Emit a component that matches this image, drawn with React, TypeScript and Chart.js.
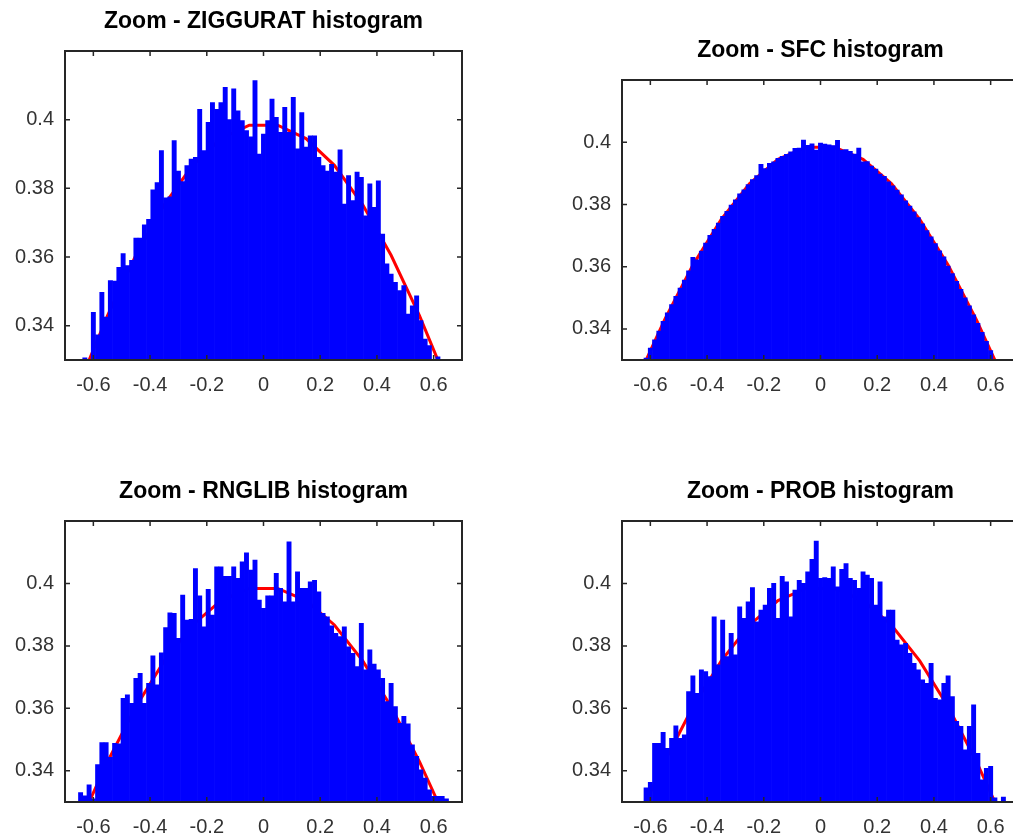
import React, { useEffect, useRef } from 'react';
import { Chart, registerables } from 'chart.js';

Chart.register(...registerables);

const binCenters = [
  -0.645, -0.63, -0.615, -0.6, -0.585, -0.57, -0.555, -0.54, -0.525, -0.51,
  -0.495, -0.48, -0.465, -0.45, -0.435, -0.42, -0.405, -0.39, -0.375, -0.36,
  -0.345, -0.33, -0.315, -0.3, -0.285, -0.27, -0.255, -0.24, -0.225, -0.21,
  -0.195, -0.18, -0.165, -0.15, -0.135, -0.12, -0.105, -0.09, -0.075, -0.06,
  -0.045, -0.03, -0.015, 0, 0.015, 0.03, 0.045, 0.06, 0.075, 0.09,
  0.105, 0.12, 0.135, 0.15, 0.165, 0.18, 0.195, 0.21, 0.225, 0.24,
  0.255, 0.27, 0.285, 0.3, 0.315, 0.33, 0.345, 0.36, 0.375, 0.39,
  0.405, 0.42, 0.435, 0.45, 0.465, 0.48, 0.495, 0.51, 0.525, 0.54,
  0.555, 0.57, 0.585, 0.6, 0.615, 0.63, 0.645,
];

const zigguratValues = [
  0.326, 0.3306, 0.329, 0.3439, 0.3373, 0.3497, 0.3425, 0.3531, 0.353, 0.357,
  0.361, 0.3575, 0.359, 0.3655, 0.3655, 0.3694, 0.371, 0.3796, 0.3817, 0.391,
  0.3772, 0.3775, 0.3939, 0.385, 0.382, 0.3866, 0.3885, 0.389, 0.403, 0.391,
  0.3992, 0.405, 0.403, 0.405, 0.4094, 0.4, 0.409, 0.4026, 0.3997, 0.3968,
  0.395, 0.4114, 0.39, 0.3958, 0.3997, 0.406, 0.4007, 0.3963, 0.4036, 0.3963,
  0.4065, 0.3915, 0.4021, 0.392, 0.3953, 0.3953, 0.389, 0.3866, 0.385, 0.387,
  0.3847, 0.3912, 0.3754, 0.3837, 0.3764, 0.3847, 0.3832, 0.372, 0.3813, 0.3745,
  0.3822, 0.3667, 0.358, 0.355, 0.3526, 0.3502, 0.3517, 0.3434, 0.3458, 0.3487,
  0.3415, 0.3361, 0.3342, 0.3295, 0.3309, 0.327, 0.325,
];

const sfcValues = [
  0.3208, 0.3272, 0.3306, 0.3338, 0.3365, 0.3393, 0.3424, 0.3452, 0.3478, 0.3505,
  0.3531, 0.3557, 0.3587, 0.363, 0.3622, 0.365, 0.3676, 0.3701, 0.372, 0.374,
  0.3762, 0.3778, 0.3798, 0.3815, 0.3834, 0.3847, 0.3864, 0.388, 0.3893, 0.3929,
  0.3915, 0.3932, 0.3937, 0.3948, 0.3955, 0.3961, 0.3969, 0.398, 0.3981, 0.4007,
  0.399, 0.3995, 0.3975, 0.3997, 0.3994, 0.3992, 0.3989, 0.4006, 0.3975, 0.3976,
  0.3971, 0.3962, 0.3981, 0.3937, 0.3938, 0.3923, 0.3914, 0.3898, 0.389, 0.3873,
  0.386, 0.3846, 0.3831, 0.3812, 0.3795, 0.3776, 0.3758, 0.3738, 0.3716, 0.3696,
  0.3674, 0.3651, 0.3632, 0.3602, 0.3578, 0.3553, 0.3527, 0.35, 0.3474, 0.3445,
  0.3418, 0.3389, 0.336, 0.333, 0.33, 0.3268, 0.3238,
];

const rnglibValues = [
  0.333, 0.332, 0.3355, 0.331, 0.342, 0.349, 0.349, 0.3443, 0.3488, 0.3486,
  0.3632, 0.3643, 0.3616, 0.3696, 0.3712, 0.3616, 0.368, 0.3768, 0.3675, 0.3778,
  0.3859, 0.3906, 0.3904, 0.3824, 0.3963, 0.3883, 0.3885, 0.4048, 0.396, 0.3861,
  0.3981, 0.3899, 0.4053, 0.4053, 0.4023, 0.4023, 0.4053, 0.4016, 0.4069, 0.4098,
  0.4043, 0.4075, 0.3947, 0.392, 0.396, 0.396, 0.4032, 0.3984, 0.3941, 0.4133,
  0.3941, 0.4037, 0.3984, 0.3984, 0.4005, 0.401, 0.3973, 0.3904, 0.3893, 0.3864,
  0.384, 0.383, 0.3861, 0.3797, 0.3776, 0.3734, 0.3872, 0.3723, 0.3787, 0.3742,
  0.3723, 0.3696, 0.3622, 0.368, 0.3606, 0.3552, 0.3574, 0.355, 0.3483, 0.3446,
  0.3403, 0.3377, 0.3339, 0.3318, 0.3318, 0.3318, 0.331,
];

const probValues = [
  0.325, 0.328, 0.3345, 0.3363, 0.3488, 0.3488, 0.3523, 0.3472, 0.3504, 0.3544,
  0.3504, 0.3515, 0.3654, 0.3704, 0.3648, 0.3723, 0.3718, 0.3702, 0.3893, 0.3739,
  0.3883, 0.3766, 0.384, 0.3771, 0.3925, 0.3888, 0.3941, 0.3987, 0.3877, 0.3915,
  0.3931, 0.3984, 0.4, 0.3888, 0.4023, 0.4005, 0.3893, 0.3979, 0.401, 0.4,
  0.4037, 0.4077, 0.4136, 0.4016, 0.4019, 0.4016, 0.4053, 0.3989, 0.4045, 0.4064,
  0.4016, 0.401, 0.3984, 0.4037, 0.4027, 0.4016, 0.3931, 0.4005, 0.3893, 0.3915,
  0.3915, 0.3819, 0.3803, 0.3808, 0.3776, 0.3744, 0.3723, 0.3691, 0.368, 0.3744,
  0.3632, 0.3627, 0.368, 0.3704, 0.3638, 0.3558, 0.3542, 0.3467, 0.3542, 0.3611,
  0.3456, 0.3371, 0.3408, 0.3414, 0.3313, 0.329, 0.3316,
];

const pdfX = [-0.75, -0.65, -0.55, -0.45, -0.35, -0.25, -0.15, -0.05, 0.05, 0.15, 0.25, 0.35, 0.45, 0.55, 0.65, 0.75];
const pdfY = [0.3011, 0.323, 0.3429, 0.3605, 0.3752, 0.3867, 0.3945, 0.3984, 0.3984, 0.3945, 0.3867, 0.3752, 0.3605, 0.3429, 0.323, 0.3011];

const xTickValues = [-0.6, -0.4, -0.2, 0, 0.2, 0.4, 0.6];
const xTickLabels = ['-0.6', '-0.4', '-0.2', '0', '0.2', '0.4', '0.6'];
const yTickValues = [0.34, 0.36, 0.38, 0.4];
const yTickLabels = ['0.34', '0.36', '0.38', '0.4'];

const titles = ['Zoom - ZIGGURAT histogram', 'Zoom - SFC histogram', 'Zoom - RNGLIB histogram', 'Zoom - PROB histogram'];
const seriesList = [zigguratValues, sfcValues, rnglibValues, probValues];

const X_MIN = -0.7;
const X_MAX = 0.7;
const Y_MIN = 0.33;
const Y_MAX = 0.42;

const AXIS_COLOR = '#262626';
const LABEL_COLOR = '#333333';
const TICK_LEN = 5;

// layout of each panel (canvas placement and paddings)
const panels = [
  { left: 0, top: 0, titlePadTop: 8, titlePadBottom: 15.4, padRight: 18, padBottom: 20 },
  { left: 557, top: 0, titlePadTop: 37, titlePadBottom: 15.4, padRight: 18, padBottom: 20 },
  { left: 0, top: 430, titlePadTop: 48, titlePadBottom: 15.4, padRight: 18, padBottom: 8 },
  { left: 557, top: 430, titlePadTop: 48, titlePadBottom: 15.4, padRight: 18, padBottom: 8 },
];
const CANVAS_W = 480;
const CANVAS_H = 420;

const framePlugin = {
  id: 'frame',
  afterDatasetsDraw(chart: any) {
    const { ctx, chartArea: a, scales } = chart;
    const xs = scales.x;
    const ys = scales.y;
    ctx.save();
    ctx.strokeStyle = AXIS_COLOR;
    ctx.lineWidth = 1.5;
    ctx.beginPath();
    for (const v of xTickValues) {
      const px = xs.getPixelForValue(v);
      ctx.moveTo(px, a.bottom);
      ctx.lineTo(px, a.bottom - TICK_LEN);
      ctx.moveTo(px, a.top);
      ctx.lineTo(px, a.top + TICK_LEN);
    }
    for (const v of yTickValues) {
      const py = ys.getPixelForValue(v);
      ctx.moveTo(a.left, py);
      ctx.lineTo(a.left + TICK_LEN, py);
      ctx.moveTo(a.right, py);
      ctx.lineTo(a.right - TICK_LEN, py);
    }
    ctx.stroke();
    ctx.lineWidth = 2;
    ctx.strokeRect(a.left, a.top, a.right - a.left, a.bottom - a.top);
    ctx.restore();
  },
};

function Panel({ index }: { index: number }) {
  const ref = useRef<HTMLCanvasElement | null>(null);
  const p = panels[index];
  useEffect(() => {
    if (!ref.current) return;
    const values = seriesList[index];
    const chart = new Chart(ref.current, {
      type: 'bar',
      data: {
        datasets: [
          {
            type: 'line',
            data: pdfX.map((x, i) => ({ x, y: pdfY[i] })),
            borderColor: '#ff0000',
            borderWidth: 3,
            pointRadius: 0,
            tension: 0,
            order: 2,
          } as any,
          {
            type: 'bar',
            data: binCenters.map((x, i) => ({ x, y: values[i] })),
            backgroundColor: '#0000ff',
            borderWidth: 0,
            barPercentage: 1,
            categoryPercentage: 1,
            order: 1,
          } as any,
        ],
      },
      options: {
        responsive: false,
        animation: false,
        devicePixelRatio: 1,
        layout: { padding: { left: 0, right: p.padRight, top: 0, bottom: p.padBottom } },
        plugins: {
          legend: { display: false },
          tooltip: { enabled: false },
          title: {
            display: true,
            text: titles[index],
            color: '#000000',
            fullSize: false,
            font: { family: 'Liberation Sans', size: 23, weight: 'bold' },
            padding: { top: p.titlePadTop, bottom: p.titlePadBottom },
          },
        },
        scales: {
          x: {
            type: 'linear',
            min: X_MIN,
            max: X_MAX,
            offset: false,
            grid: { display: false, drawTicks: false },
            border: { display: false },
            afterBuildTicks: (s: any) => {
              s.ticks = xTickValues.map((v) => ({ value: v }));
            },
            afterFit: (s: any) => {
              s.height = 40;
            },
            ticks: {
              autoSkip: false,
              maxRotation: 0,
              padding: 13,
              color: LABEL_COLOR,
              font: { family: 'Liberation Sans', size: 20 },
              callback: (_v: any, i: number) => xTickLabels[i],
            },
          },
          y: {
            type: 'linear',
            min: Y_MIN,
            max: Y_MAX,
            grid: { display: false, drawTicks: false },
            border: { display: false },
            afterBuildTicks: (s: any) => {
              s.ticks = yTickValues.map((v) => ({ value: v }));
            },
            afterFit: (s: any) => {
              s.width = 65;
            },
            ticks: {
              autoSkip: false,
              padding: 11,
              color: LABEL_COLOR,
              font: { family: 'Liberation Sans', size: 20 },
              callback: (_v: any, i: number) => yTickLabels[i],
            },
          },
        },
      },
      plugins: [framePlugin],
    });
    return () => chart.destroy();
  }, [index]);
  return (
    <div style={{ position: 'absolute', left: p.left, top: p.top, width: CANVAS_W, height: CANVAS_H }}>
      <canvas ref={ref} width={CANVAS_W} height={CANVAS_H} style={{ width: CANVAS_W, height: CANVAS_H, display: 'block' }} />
    </div>
  );
}

export default function App() {
  return (
    <div style={{ position: 'absolute', left: 0, top: 0, width: 1013, height: 838, overflow: 'hidden', background: '#ffffff' }}>
      <Panel index={0} />
      <Panel index={1} />
      <Panel index={2} />
      <Panel index={3} />
    </div>
  );
}
